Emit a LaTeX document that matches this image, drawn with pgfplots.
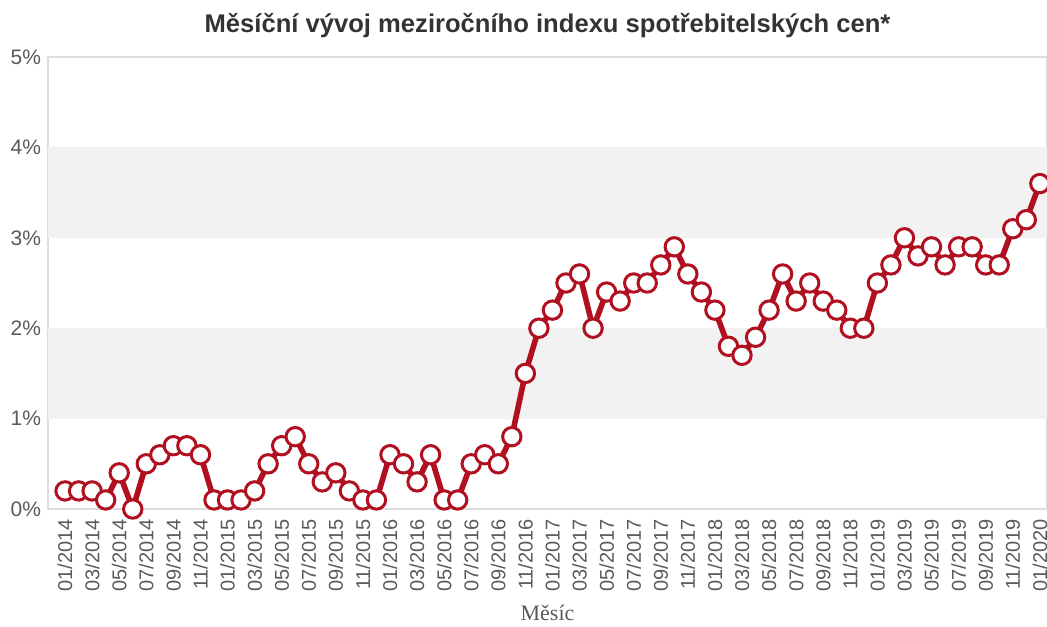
\documentclass[border=0pt]{standalone}
\usepackage{fontspec}
\setmainfont{Liberation Sans}
\newfontfamily\seriffont{Liberation Serif}
\usepackage{pgfplots}
\pgfplotsset{compat=1.18}
\definecolor{cpired}{RGB}{176,16,32}
\definecolor{band}{RGB}{242,242,242}
\definecolor{frame}{RGB}{222,222,222}
\definecolor{ticktext}{RGB}{90,90,90}
\definecolor{titletext}{RGB}{51,51,51}
\begin{document}
\begin{tikzpicture}
\begin{axis}[
  scale only axis,
  width=499.5pt, height=226pt,
  xmin=-1.26, xmax=72.53,
  ymin=0, ymax=5,
  ytick={0,1,2,3,4,5},
  yticklabels={0\%,1\%,2\%,3\%,4\%,5\%},
  xtick={0,2,...,72},
  xticklabels={01/2014,03/2014,05/2014,07/2014,09/2014,11/2014,
    01/2015,03/2015,05/2015,07/2015,09/2015,11/2015,
    01/2016,03/2016,05/2016,07/2016,09/2016,11/2016,
    01/2017,03/2017,05/2017,07/2017,09/2017,11/2017,
    01/2018,03/2018,05/2018,07/2018,09/2018,11/2018,
    01/2019,03/2019,05/2019,07/2019,09/2019,11/2019,01/2020},
  x tick label style={rotate=90, anchor=east, font=\fontsize{10}{11}\selectfont, text=ticktext, xshift=-1.5pt},
  y tick label style={font=\fontsize{10.5}{12}\selectfont, text=ticktext},
  major tick length=0pt,
  axis line style={frame, line width=1pt},
  clip=false,
  title={Měsíční vývoj meziročního indexu spotřebitelských cen*},
  title style={font=\bfseries\fontsize{12.8}{14}\selectfont, text=titletext, yshift=0pt},
  xlabel={Měsíc},
  xlabel style={font=\seriffont\fontsize{11}{12}\selectfont, text=ticktext, yshift=0pt},
]
\fill[band] (axis cs:-1.26,1) rectangle (axis cs:72.53,2);
\fill[band] (axis cs:-1.26,3) rectangle (axis cs:72.53,4);
\addplot[cpired, line width=2.8pt, mark=*, mark size=4.6pt,
  mark options={fill=white, draw=cpired, line width=1.5pt}]
coordinates {
(0,0.2)(1,0.2)(2,0.2)(3,0.1)(4,0.4)(5,0.0)(6,0.5)(7,0.6)(8,0.7)(9,0.7)(10,0.6)(11,0.1)
(12,0.1)(13,0.1)(14,0.2)(15,0.5)(16,0.7)(17,0.8)(18,0.5)(19,0.3)(20,0.4)(21,0.2)(22,0.1)(23,0.1)
(24,0.6)(25,0.5)(26,0.3)(27,0.6)(28,0.1)(29,0.1)(30,0.5)(31,0.6)(32,0.5)(33,0.8)(34,1.5)(35,2.0)
(36,2.2)(37,2.5)(38,2.6)(39,2.0)(40,2.4)(41,2.3)(42,2.5)(43,2.5)(44,2.7)(45,2.9)(46,2.6)(47,2.4)
(48,2.2)(49,1.8)(50,1.7)(51,1.9)(52,2.2)(53,2.6)(54,2.3)(55,2.5)(56,2.3)(57,2.2)(58,2.0)(59,2.0)
(60,2.5)(61,2.7)(62,3.0)(63,2.8)(64,2.9)(65,2.7)(66,2.9)(67,2.9)(68,2.7)(69,2.7)(70,3.1)(71,3.2)
(72,3.6)
};
\end{axis}
\pgfresetboundingbox
\path[use as bounding box] (-24pt,-58.5pt) rectangle (499.5pt,254.5pt);
\end{tikzpicture}
\end{document}
